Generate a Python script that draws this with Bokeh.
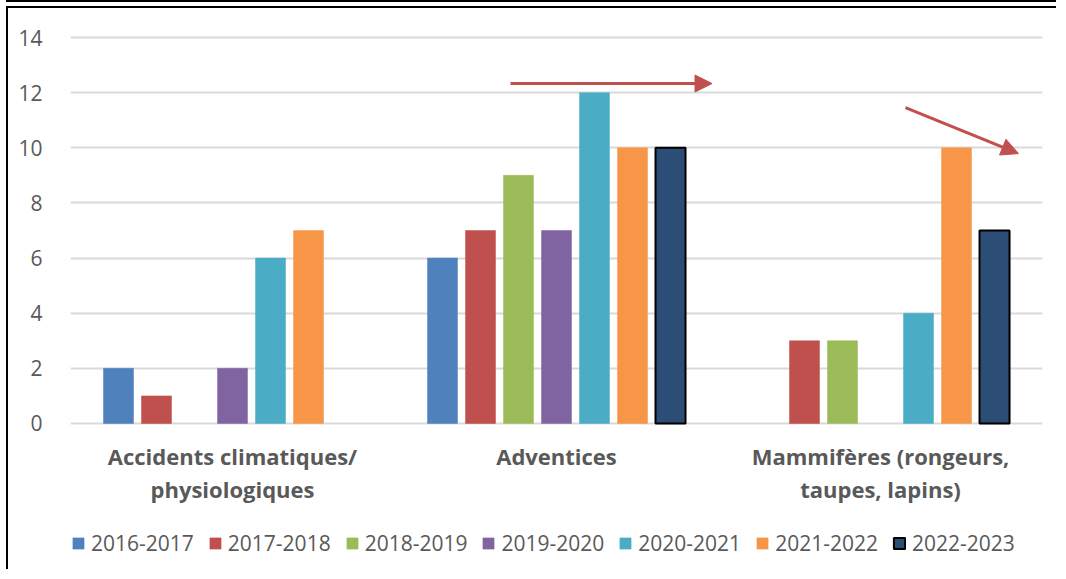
from bokeh.plotting import figure
from bokeh.models import Range1d, FixedTicker, ColumnDataSource, Arrow, NormalHead, Legend, LegendItem, Label
from bokeh.embed import file_html
from bokeh.resources import INLINE

categories = ["Accidents climatiques/\nphysiologiques", "Adventices", "Mammifères (rongeurs,\ntaupes, lapins)"]
seasons = ["2016-2017", "2017-2018", "2018-2019", "2019-2020", "2020-2021", "2021-2022", "2022-2023"]
v_2016_2017 = [2, 6, 0]
v_2017_2018 = [1, 7, 3]
v_2018_2019 = [0, 9, 3]
v_2019_2020 = [2, 7, 0]
v_2020_2021 = [6, 12, 4]
v_2021_2022 = [7, 10, 10]
v_2022_2023 = [0, 10, 7]
series = [v_2016_2017, v_2017_2018, v_2018_2019, v_2019_2020, v_2020_2021, v_2021_2022, v_2022_2023]
colors = ["#4F81BD", "#C0504D", "#9BBB59", "#8064A2", "#4BACC6", "#F79646", "#2C4D75"]
y_ticks = [0, 2, 4, 6, 8, 10, 12, 14]

# trend arrows (annotations, in data units)
arrow1 = dict(x_start=1.358, y_start=12.33, x_end=1.98, y_end=12.33)
arrow2 = dict(x_start=2.577, y_start=11.46, x_end=2.926, y_end=9.79)

FONT = "Open Sans"
GREY = "#595959"

p = figure(width=1050, height=563, output_backend="svg", toolbar_location=None,
           x_range=Range1d(0, 3), y_range=Range1d(-5.37, 14.254),
           min_border_left=62, min_border_right=16, min_border_top=22, min_border_bottom=0,
           styles={"border-left": "2px solid black", "border-top": "2px solid black",
                   "margin-left": "6px", "margin-top": "6px",
                   "box-shadow": "0 -4px 0 0 white, 0 -6px 0 0 black"})
p.outline_line_color = None
p.background_fill_color = "white"
p.border_fill_color = "white"

pitch = 0.1173
bw = 0.0926
items = []
for j, (name, vals, col) in enumerate(zip(seasons, series, colors)):
    xs = [i + 0.5 + (j - 3) * pitch for i, v in enumerate(vals) if v > 0]
    tops = [v for v in vals if v > 0]
    src = ColumnDataSource(dict(x=xs, top=tops))
    if name == "2022-2023":
        r = p.vbar(x="x", top="top", bottom=0, width=bw, source=src, fill_color=col,
                   line_color="black", line_width=2)
    else:
        r = p.vbar(x="x", top="top", bottom=0, width=bw, source=src, fill_color=col,
                   line_color=col, line_width=0.5)
    items.append(LegendItem(label=name, renderers=[r]))

red = "#C0504D"
for a in (arrow1, arrow2):
    p.add_layout(Arrow(end=NormalHead(size=17, fill_color=red, line_color=red, line_width=1),
                       line_color=red, line_width=3, **a))

p.xgrid.grid_line_color = None
p.ygrid.grid_line_color = "#D9D9D9"
p.ygrid.grid_line_width = 2
p.ygrid.ticker = FixedTicker(ticks=y_ticks)

p.yaxis.ticker = FixedTicker(ticks=y_ticks)
p.yaxis.axis_line_color = None
p.yaxis.major_tick_line_color = None
p.yaxis.minor_tick_line_color = None
p.yaxis.major_label_standoff = 22
p.yaxis.major_label_text_font = FONT
p.yaxis.major_label_text_font_size = "21px"
p.yaxis.major_label_text_color = GREY

p.xaxis.visible = False

for i, cat in enumerate(categories):
    p.add_layout(Label(x=i + 0.5, y=-0.62, text=cat, text_align="center",
                       text_baseline="top", text_font=FONT, text_font_style="bold",
                       text_font_size="22px", text_color=GREY, text_line_height=1.1))

legend = Legend(items=items, orientation="horizontal", location=(1, 14),
                glyph_width=14, glyph_height=14, label_standoff=6, spacing=14,
                label_text_font=FONT, label_text_font_size="21px", label_text_color=GREY,
                border_line_color=None, background_fill_alpha=0, margin=0, padding=0)
p.add_layout(legend, "center")

open("out.html", "w").write(file_html(p, INLINE))
